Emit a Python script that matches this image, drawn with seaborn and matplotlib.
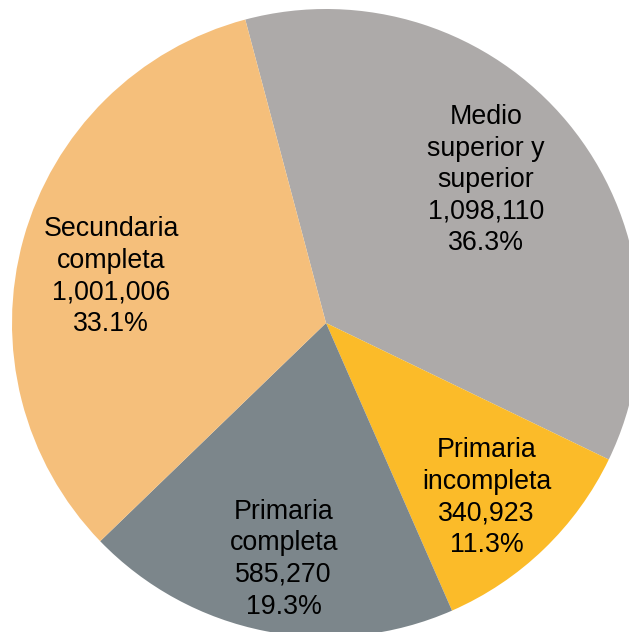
import matplotlib
matplotlib.use("Agg")
import matplotlib.pyplot as plt
import seaborn as sns
import numpy as np

categories = ["Medio\nsuperior y\nsuperior", "Primaria\nincompleta", "Primaria\ncompleta", "Secundaria\ncompleta"]
values = [1098110, 340923, 585270, 1001006]
value_labels = ["1,098,110", "340,923", "585,270", "1,001,006"]
pct_labels = ["36.3%", "11.3%", "19.3%", "33.1%"]
colors = ["#ADAAA9", "#FBBB29", "#7C868B", "#F5BF7B"]

# label placement tweaks (radius as fraction, angle offset in degrees)
label_r = [0.683, 0.756, 0.764, 0.70]
label_dtheta = [2.2, -1.4, 1.0, 3.3]

sns.set_theme(style="white")
plt.rcParams['font.family'] = ['Liberation Sans', 'DejaVu Sans']

fig = plt.figure(figsize=(6.29, 6.32), dpi=100)
ax = fig.add_axes([0, 0, 1, 1])

labels = [f"{c}\n{v}\n{p}" for c, v, p in zip(categories, value_labels, pct_labels)]
wedges, _ = ax.pie(values, colors=colors, startangle=104.9, counterclock=False,
                   wedgeprops=dict(linewidth=0))
for w, lab, r, dt in zip(wedges, labels, label_r, label_dtheta):
    mid = np.deg2rad((w.theta1 + w.theta2) / 2 + dt)
    ax.text(r * np.cos(mid), r * np.sin(mid), lab, ha="center", va="center",
            fontsize=19.3, color="black", linespacing=1.28)

R = 314.0
cx, cy = 326.0, 323.0
ax.set_xlim(-cx / R, (629 - cx) / R)
ax.set_ylim(-(632 - cy) / R, cy / R)
ax.set_aspect("auto")
ax.axis("off")

fig.savefig("out.png", dpi=100)
